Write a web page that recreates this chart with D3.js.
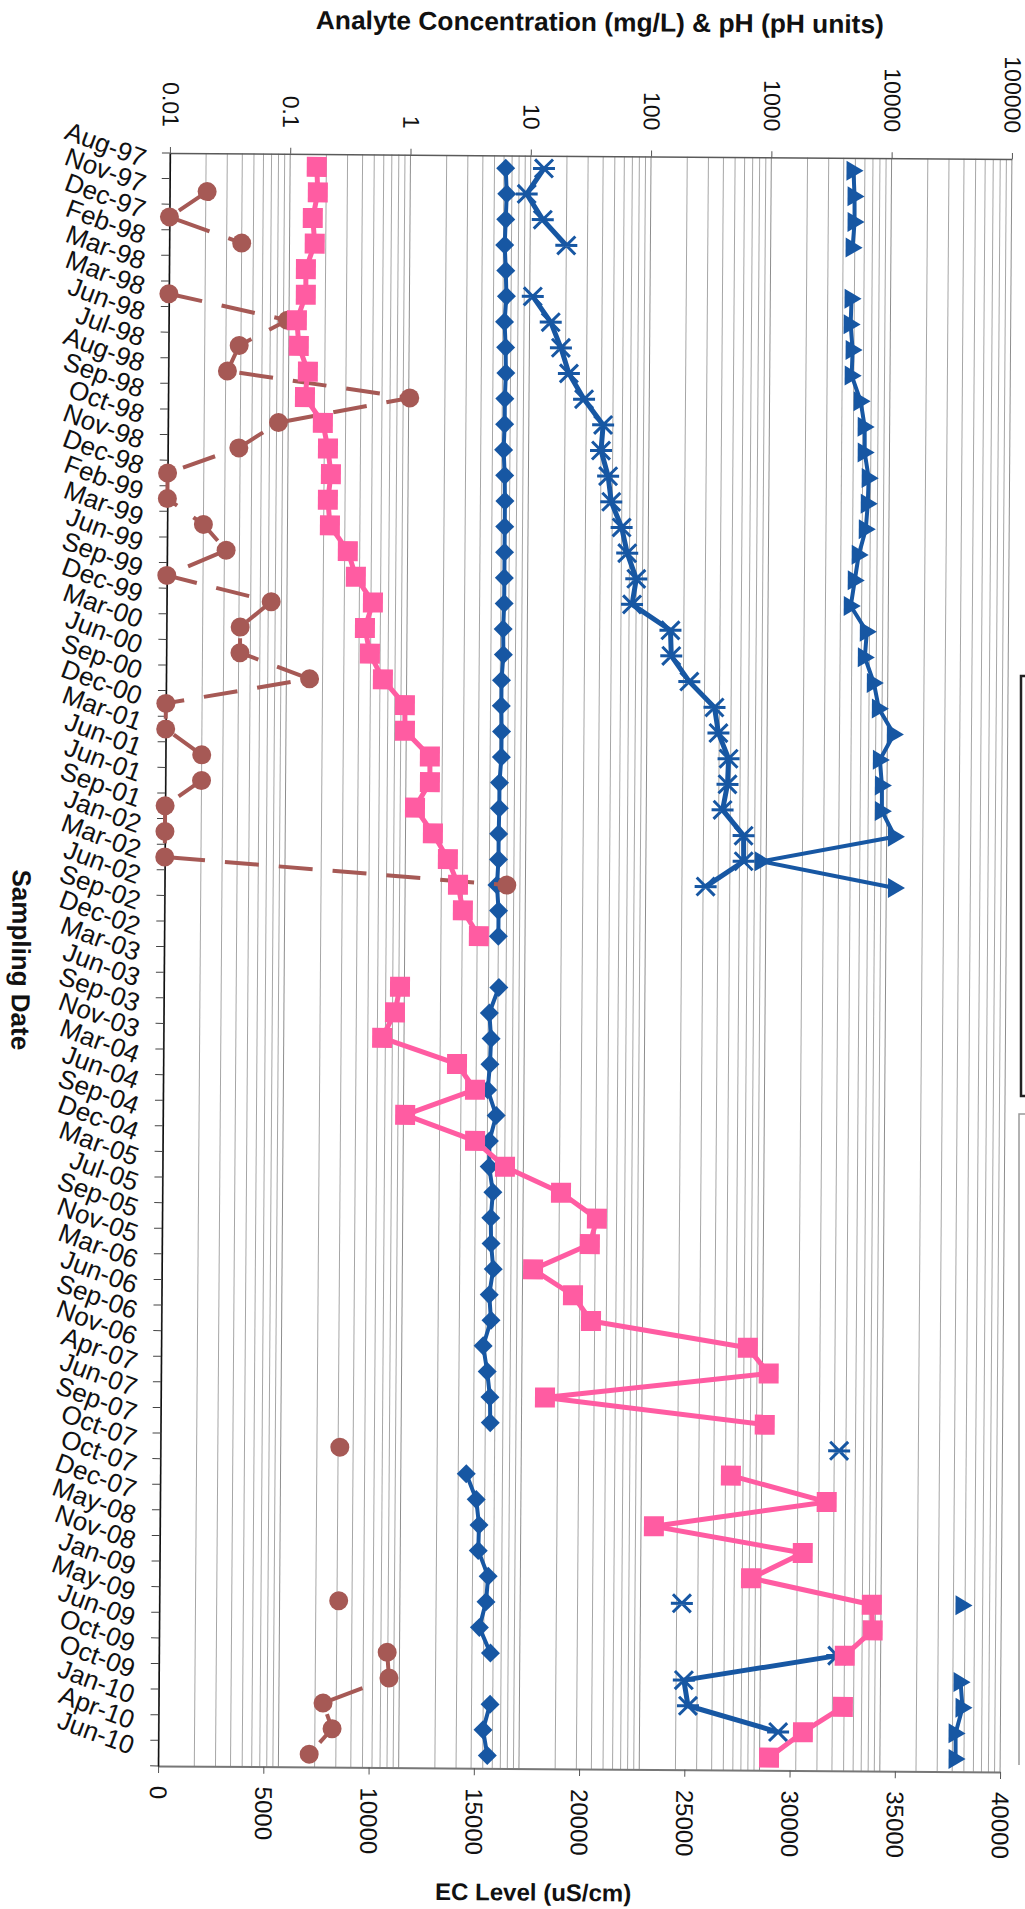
<!DOCTYPE html>
<html>
<head>
<meta charset="utf-8">
<script src="https://cdn.jsdelivr.net/npm/d3@7"></script>
<style>
  html, body { margin: 0; padding: 0; background: #fff; }
  svg { display: block; font-family: "Liberation Sans", Arial, sans-serif; }
</style>
</head>
<body>
<svg id="chart" width="1025" height="1909"></svg>
<script>
// Sampling dates (category axis, top to bottom)
const dates = ["Aug-97","Nov-97","Dec-97","Feb-98","Mar-98","Mar-98","Jun-98","Jul-98","Aug-98","Sep-98",
  "Oct-98","Nov-98","Dec-98","Feb-99","Mar-99","Jun-99","Sep-99","Dec-99","Mar-00","Jun-00",
  "Sep-00","Dec-00","Mar-01","Jun-01","Jun-01","Sep-01","Jan-02","Mar-02","Jun-02","Sep-02",
  "Dec-02","Mar-03","Jun-03","Sep-03","Nov-03","Mar-04","Jun-04","Sep-04","Dec-04","Mar-05",
  "Jul-05","Sep-05","Nov-05","Mar-06","Jun-06","Sep-06","Nov-06","Apr-07","Jun-07","Sep-07",
  "Oct-07","Oct-07","Dec-07","May-08","Nov-08","Jan-09","May-09","Jun-09","Oct-09","Oct-09",
  "Jan-10","Apr-10","Jun-10"];

// pH (pH units) - blue diamonds, log axis
const phUnits = [6.2,6.35,6.25,6.15,6.3,6.4,6.2,6.35,6.4,6.3,
  6.3,6.2,6.35,6.4,6.4,6.4,6.4,6.4,6.3,6.35,
  6.15,6.15,6.2,6.2,6.0,6.0,5.95,5.95,5.8,6.0,
  6.0,null,6.1,5.1,5.3,5.2,5.0,5.9,5.2,5.2,
  5.6,5.4,5.45,5.7,5.3,5.5,4.75,5.15,5.45,5.5,
  null,3.5,4.25,4.5,4.45,5.4,5.2,4.6,5.7,null,
  5.7,5.0,5.45];

// Analyte (mg/L) - blue asterisks, log axis
const analyteA = [12.9,9.3,12.7,20,null,10.6,15,18.3,21.4,28.7,
  41.5,40,46,49,60,67,80,74,155,158,
  224,364,394,480,472,431,647,650,315,null,
  null,null,null,null,null,null,null,null,null,null,
  null,null,null,null,null,null,null,null,null,null,
  4390,null,null,null,null,null,221,null,4355,232,
  252,1420,null];

// Analyte (mg/L) - blue triangles, log axis
const analyteB = [4830,4945,4965,4800,null,4740,4670,4870,4800,5720,
  6200,6225,6745,6650,6425,5630,5240,4870,6650,6425,
  7660,8465,11330,8690,9070,9100,11730,918,11820,null,
  null,null,null,null,null,null,null,null,null,null,
  null,null,null,null,null,null,null,null,null,null,
  null,null,null,null,null,null,47600,null,null,46340,
  48300,42430,42600];

// Analyte (mg/L) - brown circles, log axis
const analyteC = [null,0.0205,0.01,0.04,null,0.01,0.097,0.0387,0.031,1.02,
  0.083,0.039,0.01,0.01,0.02,0.031,0.01,0.074,0.041,0.041,
  0.156,0.01,0.01,0.02,0.02,0.01,0.01,0.01,7.0,null,
  null,null,null,null,null,null,null,null,null,null,
  null,null,null,null,null,null,null,null,null,null,
  0.31,null,null,null,null,null,0.31,null,0.79,0.82,
  0.233,0.278,0.18];

// EC level (uS/cm) - pink squares, linear axis
const ecLevel = [6980,7040,6810,6910,6500,6505,6090,6190,6630,6500,
  7360,7610,7760,7625,7730,8590,8980,9800,9430,9675,
  10300,11355,11365,12560,12570,11870,12730,13450,13940,14180,
  14950,null,11220,10990,10390,13955,14820,11510,14840,16270,
  18940,20655,20330,17640,19545,20410,27870,28870,18250,28700,
  null,27110,31670,23470,30550,28100,33850,33900,32580,null,
  32510,30620,29020];

const concTicks = [0.01, 0.1, 1, 10, 100, 1000, 10000, 100000];
const concTickLabels = ["0.01","0.1","1","10","100","1000","10000","100000"];
const ecTicks = [0, 5000, 10000, 15000, 20000, 25000, 30000, 35000, 40000];
const ecTickLabels = ["0","5000","10000","15000","20000","25000","30000","35000","40000"];

// ---- layout ----
const L = 164, R = 1006, T = 156, B = 1769;
const BLUE = "#1757a3", PINK = "#ff5ca2", BROWN = "#a65955";

const svg = d3.select("#chart");
const root = svg.append("g").attr("transform", "rotate(0.42,585,962)");

const xLog = d3.scaleLog().domain([0.01, 100000]).range([L, R]);
const xEc = d3.scaleLinear().domain([0, 40000]).range([L, R]);
const y = d3.scaleBand().domain(d3.range(dates.length)).range([T, B]).padding(0);
const yc = i => y(i) + y.bandwidth() / 2;

// vertical log gridlines (decades and 2..9 subdivisions)
const gridVals = [];
concTicks.forEach((d, i) => {
  if (i < concTicks.length - 1) for (let k = 1; k < 10; k++) gridVals.push(d * k);
});
gridVals.push(100000);
root.append("g").selectAll("line").data(gridVals).join("line")
  .attr("x1", d => xLog(d)).attr("x2", d => xLog(d))
  .attr("y1", T).attr("y2", B)
  .attr("stroke", d => concTicks.some(t => Math.abs(t - d) / t < 1e-9) ? "#8d8d8d" : "#a6a6a6")
  .attr("stroke-width", 1);

// top (log) axis
const topAx = root.append("g").attr("transform", `translate(0,${T})`)
  .call(d3.axisTop(xLog).tickValues(concTicks).tickFormat((d, i) => concTickLabels[i]).tickSize(6).tickSizeOuter(0));
topAx.attr("font-size", 23).attr("font-family", null);
topAx.select(".domain").attr("stroke", "#5a5a5a").attr("stroke-width", 1.5);
topAx.selectAll(".tick line").attr("stroke", "#555");
topAx.selectAll(".tick text")
  .attr("transform", "rotate(90)").attr("x", -26).attr("y", 0).attr("dy", "0.35em")
  .attr("text-anchor", "end").attr("fill", "#111");

// bottom (EC) axis
const botAx = root.append("g").attr("transform", `translate(0,${B})`)
  .call(d3.axisBottom(xEc).tickValues(ecTicks).tickFormat((d, i) => ecTickLabels[i]).tickSize(7).tickSizeOuter(0));
botAx.attr("font-size", 24).attr("font-family", null);
botAx.select(".domain").attr("stroke", "#777").attr("stroke-width", 2);
botAx.selectAll(".tick line").attr("stroke", "#555");
botAx.selectAll(".tick text")
  .attr("transform", "rotate(90)").attr("x", 20).attr("y", 0).attr("dy", "0.35em")
  .attr("text-anchor", "start").attr("fill", "#111");

// left (date) axis
const leftAx = root.append("g").attr("transform", `translate(${L},0)`)
  .call(d3.axisLeft(y).tickFormat(i => dates[i]).tickSize(0).tickSizeOuter(0));
leftAx.attr("font-size", 26).attr("font-family", null);
leftAx.select(".domain").attr("stroke", "#111").attr("stroke-width", 1.5);
leftAx.selectAll(".tick text")
  .attr("x", -28).attr("y", 2).attr("dy", null)
  .attr("text-anchor", "end").attr("fill", "#111")
  .attr("transform", "rotate(20,-28,2)");
root.append("g").selectAll("line").data(d3.range(dates.length + 1)).join("line")
  .attr("x1", L - 8).attr("x2", L)
  .attr("y1", i => T + i * y.bandwidth()).attr("y2", i => T + i * y.bandwidth())
  .attr("stroke", "#444").attr("stroke-width", 1);

// series drawing helper
function drawSeries(values, xs, opts) {
  const g = root.append("g");
  const pts = values.map((v, i) => ({ i, v }));
  const line = d3.line().defined(d => d.v != null).x(d => xs(d.v)).y(d => yc(d.i));
  g.append("path").attr("d", line(pts)).attr("fill", "none")
    .attr("stroke", opts.color).attr("stroke-width", opts.lw)
    .attr("stroke-linejoin", "round")
    .attr("stroke-dasharray", opts.dash || null);
  const m = g.selectAll("g.m").data(pts.filter(d => d.v != null)).join("g")
    .attr("transform", d => `translate(${xs(d.v)},${yc(d.i)})`);
  if (opts.marker === "circle") {
    m.append("circle").attr("r", 9.5).attr("fill", opts.color);
  } else if (opts.marker === "star") {
    m.append("path").attr("d", "M-9,-9L9,9M-9,9L9,-9M-11,0L11,0")
      .attr("stroke", opts.color).attr("stroke-width", 3).attr("fill", "none");
  } else {
    m.append("path").attr("d", opts.marker).attr("fill", opts.color);
  }
}

drawSeries(phUnits, xLog, { color: BLUE, lw: 4, marker: "M0,-9.5L9.5,0L0,9.5L-9.5,0Z" });
drawSeries(analyteA, xLog, { color: BLUE, lw: 5, marker: "star" });
drawSeries(analyteB, xLog, { color: BLUE, lw: 4, marker: "M-7,-10L10,0L-7,10Z" });
drawSeries(analyteC, xLog, { color: BROWN, lw: 4, marker: "circle", dash: "34,20" });
drawSeries(ecLevel, xEc, { color: PINK, lw: 5, marker: "M-10,-10H10V10H-10Z" });

// axis titles
root.append("text").attr("x", 593).attr("y", 31).attr("text-anchor", "middle")
  .attr("font-size", 26).attr("font-weight", "bold").attr("fill", "#111")
  .attr("textLength", 568).attr("lengthAdjust", "spacingAndGlyphs")
  .text("Analyte Concentration (mg/L) & pH (pH units)");
root.append("text").attr("x", 540).attr("y", 1901).attr("text-anchor", "middle")
  .attr("font-size", 24).attr("font-weight", "bold").attr("fill", "#111")
  .text("EC Level (uS/cm)");
root.append("text").attr("transform", "translate(12,964) rotate(90)").attr("text-anchor", "middle")
  .attr("font-size", 26).attr("font-weight", "bold").attr("fill", "#111")
  .text("Sampling Date");

// edges of the boxes at the right margin
svg.append("path").attr("d", "M1025,676H1021V1096H1025")
  .attr("fill", "none").attr("stroke", "#222").attr("stroke-width", 2.5);
svg.append("path").attr("d", "M1025,1114H1019V1765")
  .attr("fill", "none").attr("stroke", "#999").attr("stroke-width", 1.5);
</script>
</body>
</html>
